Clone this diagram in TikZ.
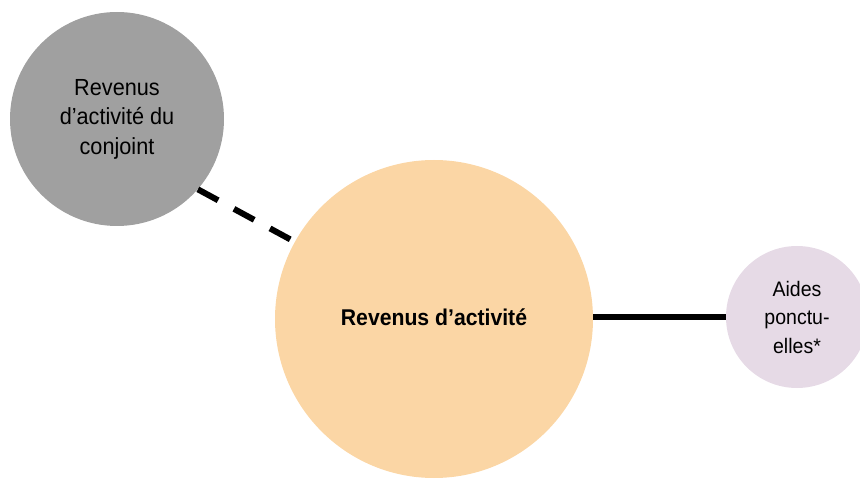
\documentclass[tikz,border=0pt]{standalone}
\usepackage{fontspec}
\setmainfont[FakeStretch=0.93]{Liberation Sans}
\definecolor{grayc}{HTML}{A0A0A0}
\definecolor{peach}{HTML}{FBD6A5}
\definecolor{lav}{HTML}{E6DAE6}
\begin{document}
\begin{tikzpicture}[x=1pt,y=-1pt,
  bubble/.style={circle,inner sep=0pt,align=center,text=black},
  link/.style={line width=6pt,black}]
\useasboundingbox (0,0) rectangle (860,481);
\clip (0,0) rectangle (860,481);
\node[bubble,fill=grayc,minimum size=214pt,font=\fontsize{23.3}{30}\selectfont] (conj) at (117,119) {\raisebox{-1pt}{Revenus}\\d’activité du\\conjoint};
\node[bubble,fill=peach,minimum size=318pt,font=\bfseries\fontsize{22.8}{26}\selectfont] (rev) at (434,319) {\raisebox{3pt}{Revenus d’activité}};
\node[bubble,fill=lav,minimum size=142pt,font=\fontsize{21}{28.5}\selectfont] (aides) at (797,317) {Aides\\ponctu-\\elles*};
\draw[link,dash pattern=on 23pt off 18pt] (conj.-41) -- (rev.151);
\draw[link] (rev.east |- aides.west) -- (aides.west);
\end{tikzpicture}
\end{document}
